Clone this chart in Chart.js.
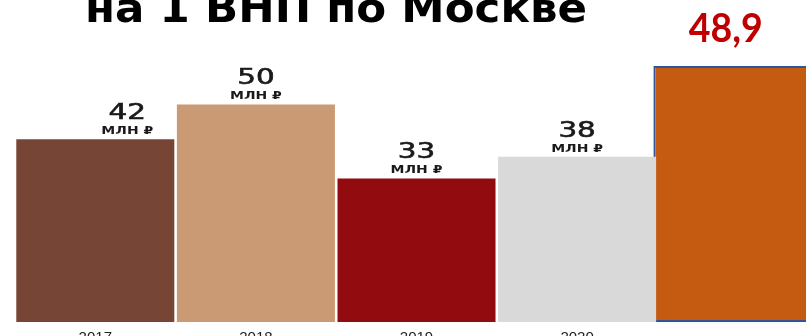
<!DOCTYPE html>
<html>
<head>
<meta charset="utf-8">
<script src="https://cdn.jsdelivr.net/npm/chart.js@4"></script>
<style>
  html, body { margin: 0; padding: 0; background: #fff; overflow: hidden; }
  #wrap { width: 818px; height: 354px; }
</style>
</head>
<body>
<div id="wrap"><canvas id="vnpChart"></canvas></div>
<script>
// данные
const titleText = 'на 1 ВНП по Москве';
const years = ['2017', '2018', '2019', '2020', ''];
const pastValues = [42, 50, 33, 38, null];
const currentValue = [null, null, null, null, 48.9];
const unitText = 'МЛН ₽';
const currentLabel = '48,9';
const barColors = ['#774535', '#c99a74', '#920c0f', '#d9d9d9', '#c55a11'];

// текст поверх графика
const barText = {
    id: 'barText',
    afterDatasetsDraw(chart) {
        const ctx = chart.ctx;

        ctx.save();
        ctx.font = 'bold 40px "DejaVu Sans"';
        const tw = ctx.measureText(titleText).width;
        ctx.translate(336, 22);
        ctx.scale(502 / tw, 1);
        ctx.fillStyle = '#000';
        ctx.textAlign = 'center';
        ctx.textBaseline = 'alphabetic';
        ctx.fillText(titleText, 0, 0);
        ctx.restore();

        chart.getDatasetMeta(0).data.forEach((bar, i) => {
            if (pastValues[i] == null) return;
            const dx = i === 0 ? 32 : 0;
            ctx.save();
            ctx.translate(bar.x + dx, bar.y);
            ctx.scale(1.4, 1);
            ctx.fillStyle = '#1a1a1a';
            ctx.strokeStyle = '#1a1a1a';
            ctx.lineWidth = 0.6;
            ctx.textAlign = 'center';
            ctx.textBaseline = 'alphabetic';
            ctx.font = '21px "DejaVu Sans"';
            ctx.fillText(String(pastValues[i]), 0, -20);
            ctx.strokeText(String(pastValues[i]), 0, -20);
            ctx.font = 'bold 10px "DejaVu Sans", "Noto Sans"';
            ctx.fillText(unitText, 0, -5);
            ctx.restore();
        });

        const last = chart.getDatasetMeta(1).data[4];
        ctx.save();
        ctx.font = 'bold 40px Lato';
        const lw = ctx.measureText(currentLabel).width;
        ctx.translate(last.x - 12, last.y - 24);
        ctx.scale(74 / lw, 1);
        ctx.fillStyle = '#c00000';
        ctx.textAlign = 'center';
        ctx.fillText(currentLabel, 0, 0);
        ctx.restore();
    }
};

new Chart(document.getElementById('vnpChart'), {
    type: 'bar',
    data: {
        labels: years,
        datasets: [
            {
                data: pastValues,
                backgroundColor: barColors,
                borderWidth: 0,
                grouped: false,
                categoryPercentage: 1,
                barPercentage: 0.984,
                yAxisID: 'y'
            },
            {
                data: currentValue,
                backgroundColor: barColors,
                borderColor: '#2f5597',
                borderWidth: 2,
                borderSkipped: false,
                grouped: false,
                categoryPercentage: 1,
                barPercentage: 1.05,
                yAxisID: 'y2'
            }
        ]
    },
    options: {
        responsive: true,
        maintainAspectRatio: false,
        animation: false,
        layout: { padding: { left: 15, right: 0, top: 0, bottom: 0 } },
        plugins: {
            legend: { display: false },
            title: { display: false },
            tooltip: { enabled: false }
        },
        scales: {
            x: {
                grid: { display: false, drawTicks: false },
                border: { display: false },
                ticks: {
                    color: '#222',
                    padding: 7,
                    font: { family: 'Liberation Sans', size: 15 }
                }
            },
            y: { display: false, min: 0, max: 74 },
            y2: { display: false, min: 0, max: 61.5 }
        }
    },
    plugins: [barText]
});
</script>
</body>
</html>
